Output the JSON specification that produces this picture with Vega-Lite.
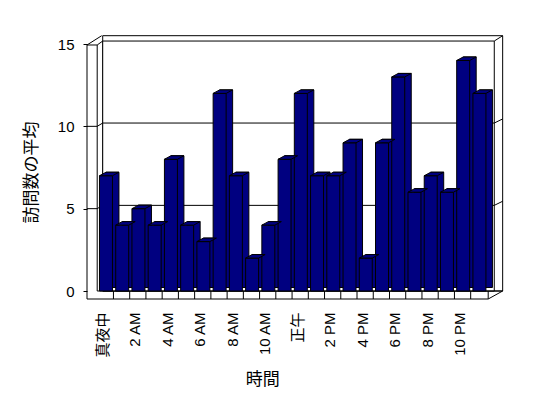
{
 "$schema": "https://vega.github.io/schema/vega-lite/v6.json",
 "width": 391, "height": 247,
 "autosize": "none",
 "padding": {"left": 97.2, "top": 44, "right": 59.8, "bottom": 107},
 "background": "white",
 "config": {
  "view": {"stroke": null},
  "rule": {"color": "black", "strokeWidth": 1},
  "axis": {"labelFont": "Liberation Sans, Noto Sans CJK JP", "titleFont": "Noto Sans CJK JP", "labelColor": "black", "titleColor": "black", "titleFontWeight": "normal"}
 },
 "data": {"values": [
  {"hour": "真夜中", "value": 7}, {"hour": "1 AM", "value": 4}, {"hour": "2 AM", "value": 5}, {"hour": "3 AM", "value": 4},
  {"hour": "4 AM", "value": 8}, {"hour": "5 AM", "value": 4}, {"hour": "6 AM", "value": 3}, {"hour": "7 AM", "value": 12},
  {"hour": "8 AM", "value": 7}, {"hour": "9 AM", "value": 2}, {"hour": "10 AM", "value": 4}, {"hour": "11 AM", "value": 8},
  {"hour": "正午", "value": 12}, {"hour": "1 PM", "value": 7}, {"hour": "2 PM", "value": 7}, {"hour": "3 PM", "value": 9},
  {"hour": "4 PM", "value": 2}, {"hour": "5 PM", "value": 9}, {"hour": "6 PM", "value": 13}, {"hour": "7 PM", "value": 6},
  {"hour": "8 PM", "value": 7}, {"hour": "9 PM", "value": 6}, {"hour": "10 PM", "value": 14}, {"hour": "11 PM", "value": 12}
 ]},
 "layer": [
  {
   "data": {"values": [{}]},
   "layer": [
    {"mark": {"type": "rect", "fill": "white", "stroke": "black", "strokeWidth": 1},
     "encoding": {"x": {"datum": 0.338, "type": "quantitative", "scale": {"domain": [0, 24], "nice": false, "zero": false}, "axis": null}, "x2": {"datum": 24.888},
                  "y": {"datum": 15.504, "type": "quantitative", "scale": {"domain": [0, 15], "nice": false}}, "y2": {"datum": 0}}},
    {"mark": {"type": "rect", "fill": "white", "stroke": "black", "strokeWidth": 1},
     "encoding": {"x": {"datum": 0.338, "type": "quantitative", "scale": {"domain": [0, 24], "nice": false, "zero": false}, "axis": null}, "x2": {"datum": 24.373},
                  "y": {"datum": 15.18, "type": "quantitative", "scale": {"domain": [0, 15], "nice": false}}, "y2": {"datum": 0}}},
    {"mark": "rule", "encoding": {"x": {"datum": -0.626, "type": "quantitative", "axis": null}, "y": {"datum": 14.94, "type": "quantitative"}, "y2": {"datum": -0.486}}},
    {"mark": "rule", "encoding": {"x": {"datum": -0.626, "type": "quantitative", "axis": null}, "x2": {"datum": 24}, "y": {"datum": -0.486, "type": "quantitative"}}},
    {"mark": "rule", "encoding": {"x": {"datum": -0.626, "type": "quantitative", "axis": null}, "x2": {"datum": 0}, "y": {"datum": 14.94, "type": "quantitative"}}},
    {"mark": "rule", "encoding": {"x": {"datum": 24, "type": "quantitative", "axis": null}, "y": {"datum": -0.486, "type": "quantitative"}, "y2": {"datum": 0}}},
    {"mark": "rule", "encoding": {"x": {"datum": 0, "type": "quantitative", "axis": null}, "y": {"datum": 14.94, "type": "quantitative"}, "y2": {"datum": 0}}},
    {"mark": "rule", "encoding": {"x": {"datum": 0, "type": "quantitative", "axis": null}, "x2": {"datum": 24.888}, "y": {"datum": 0, "type": "quantitative"}}},
    {"mark": "rule", "encoding": {"x": {"datum": -0.626, "type": "quantitative", "axis": null}, "x2": {"datum": 0.276}, "y": {"datum": 14.94, "type": "quantitative"}, "y2": {"datum": 15.504}}},
    {"mark": "rule", "encoding": {"x": {"datum": 0, "type": "quantitative", "axis": null}, "x2": {"datum": 0.338}, "y": {"datum": 14.94, "type": "quantitative"}, "y2": {"datum": 15.18}}},
    {"mark": "rule", "encoding": {"x": {"datum": 24.373, "type": "quantitative", "axis": null}, "x2": {"datum": 24.888}, "y": {"datum": 15.18, "type": "quantitative"}, "y2": {"datum": 15.504}}},
    {"mark": "rule", "encoding": {"x": {"datum": 24, "type": "quantitative", "axis": null}, "x2": {"datum": 24.888}, "y": {"datum": -0.486, "type": "quantitative"}, "y2": {"datum": 0}}},
    {"mark": "rule", "encoding": {"x": {"datum": -0.626, "type": "quantitative", "axis": null}, "x2": {"datum": 0}, "y": {"datum": 10, "type": "quantitative"}}},
    {"mark": "rule", "encoding": {"x": {"datum": 0, "type": "quantitative", "axis": null}, "x2": {"datum": 0.338}, "y": {"datum": 10, "type": "quantitative"}, "y2": {"datum": 10.2}}},
    {"mark": "rule", "encoding": {"x": {"datum": 0.338, "type": "quantitative", "axis": null}, "x2": {"datum": 24.373}, "y": {"datum": 10.2, "type": "quantitative"}}},
    {"mark": "rule", "encoding": {"x": {"datum": 24.373, "type": "quantitative", "axis": null}, "x2": {"datum": 24.888}, "y": {"datum": 10.2, "type": "quantitative"}, "y2": {"datum": 10.45}}},
    {"mark": "rule", "encoding": {"x": {"datum": -0.626, "type": "quantitative", "axis": null}, "x2": {"datum": 0}, "y": {"datum": 5, "type": "quantitative"}}},
    {"mark": "rule", "encoding": {"x": {"datum": 0, "type": "quantitative", "axis": null}, "x2": {"datum": 0.338}, "y": {"datum": 5, "type": "quantitative"}, "y2": {"datum": 5.2}}},
    {"mark": "rule", "encoding": {"x": {"datum": 0.338, "type": "quantitative", "axis": null}, "x2": {"datum": 24.373}, "y": {"datum": 5.2, "type": "quantitative"}}},
    {"mark": "rule", "encoding": {"x": {"datum": 24.373, "type": "quantitative", "axis": null}, "x2": {"datum": 24.888}, "y": {"datum": 5.2, "type": "quantitative"}, "y2": {"datum": 5.45}}}
   ]
  },
  {
   "layer": [
    {"transform": [{"filter": "datum.hour != '真夜中'"}],
     "mark": {"type": "rule", "xOffset": -2.26, "color": "black"},
     "encoding": {
      "x": {"field": "hour", "type": "nominal", "bandPosition": 0,
            "scale": {"domain": ["真夜中","1 AM","2 AM","3 AM","4 AM","5 AM","6 AM","7 AM","8 AM","9 AM","10 AM","11 AM","正午","1 PM","2 PM","3 PM","4 PM","5 PM","6 PM","7 PM","8 PM","9 PM","10 PM","11 PM"], "paddingInner": 0.2, "paddingOuter": 0.14}},
      "y": {"datum": 0, "type": "quantitative", "scale": {"domain": [0, 15], "nice": false}},
      "y2": {"datum": -0.486}
     }},
    {"mark": {"type": "bar", "fill": "#000080", "stroke": "black", "strokeWidth": 1, "xOffset": 6.5, "x2Offset": 6.5, "yOffset": -3.5, "y2Offset": -3.5},
     "encoding": {
      "x": {"field": "hour", "type": "nominal",
            "scale": {"domain": ["真夜中","1 AM","2 AM","3 AM","4 AM","5 AM","6 AM","7 AM","8 AM","9 AM","10 AM","11 AM","正午","1 PM","2 PM","3 PM","4 PM","5 PM","6 PM","7 PM","8 PM","9 PM","10 PM","11 PM"], "paddingInner": 0.2, "paddingOuter": 0.14}},
      "y": {"field": "value", "type": "quantitative", "scale": {"domain": [0, 15], "nice": false}}
     }},
    {"mark": {"type": "bar", "fill": "#000080", "stroke": "black", "strokeWidth": 1},
     "encoding": {
      "x": {"field": "hour", "type": "nominal",
            "scale": {"domain": ["真夜中","1 AM","2 AM","3 AM","4 AM","5 AM","6 AM","7 AM","8 AM","9 AM","10 AM","11 AM","正午","1 PM","2 PM","3 PM","4 PM","5 PM","6 PM","7 PM","8 PM","9 PM","10 PM","11 PM"], "paddingInner": 0.2, "paddingOuter": 0.14},
            "axis": {"values": ["真夜中","2 AM","4 AM","6 AM","8 AM","10 AM","正午","2 PM","4 PM","6 PM","8 PM","10 PM"],
                     "ticks": false, "domain": false, "labelAngle": 270, "labelPadding": 21, "labelFontSize": 15, "labelOffset": -3,
                     "title": "時間", "titleFontSize": 17, "titleX": 165, "titleY": 88, "titleBaseline": "middle", "titleAlign": "center"}},
      "y": {"field": "value", "type": "quantitative", "scale": {"domain": [0, 15], "nice": false},
            "axis": {"values": [0, 5, 10, 15], "offset": 10.2, "domain": false, "grid": false, "tickSize": 4, "tickColor": "black",
                     "labelPadding": 9, "labelFontSize": 15, "title": "訪問数の平均", "titleFontSize": 17,
                     "titleX": -56, "titleY": 128, "titleAngle": 270, "titleBaseline": "middle", "titleAlign": "center"}}
     }},
    {"mark": {"type": "point", "shape": "M0,0L13,0L19.5,-3.5L6.5,-3.5Z", "size": 4, "filled": true, "fill": "#000080", "stroke": "black", "strokeWidth": 1, "opacity": 1},
     "encoding": {
      "x": {"field": "hour", "type": "nominal", "bandPosition": 0,
            "scale": {"domain": ["真夜中","1 AM","2 AM","3 AM","4 AM","5 AM","6 AM","7 AM","8 AM","9 AM","10 AM","11 AM","正午","1 PM","2 PM","3 PM","4 PM","5 PM","6 PM","7 PM","8 PM","9 PM","10 PM","11 PM"], "paddingInner": 0.2, "paddingOuter": 0.14}},
      "y": {"field": "value", "type": "quantitative", "scale": {"domain": [0, 15], "nice": false}}
     }}
   ]
  }
 ],
 "resolve": {"scale": {"x": "independent"}}
}
